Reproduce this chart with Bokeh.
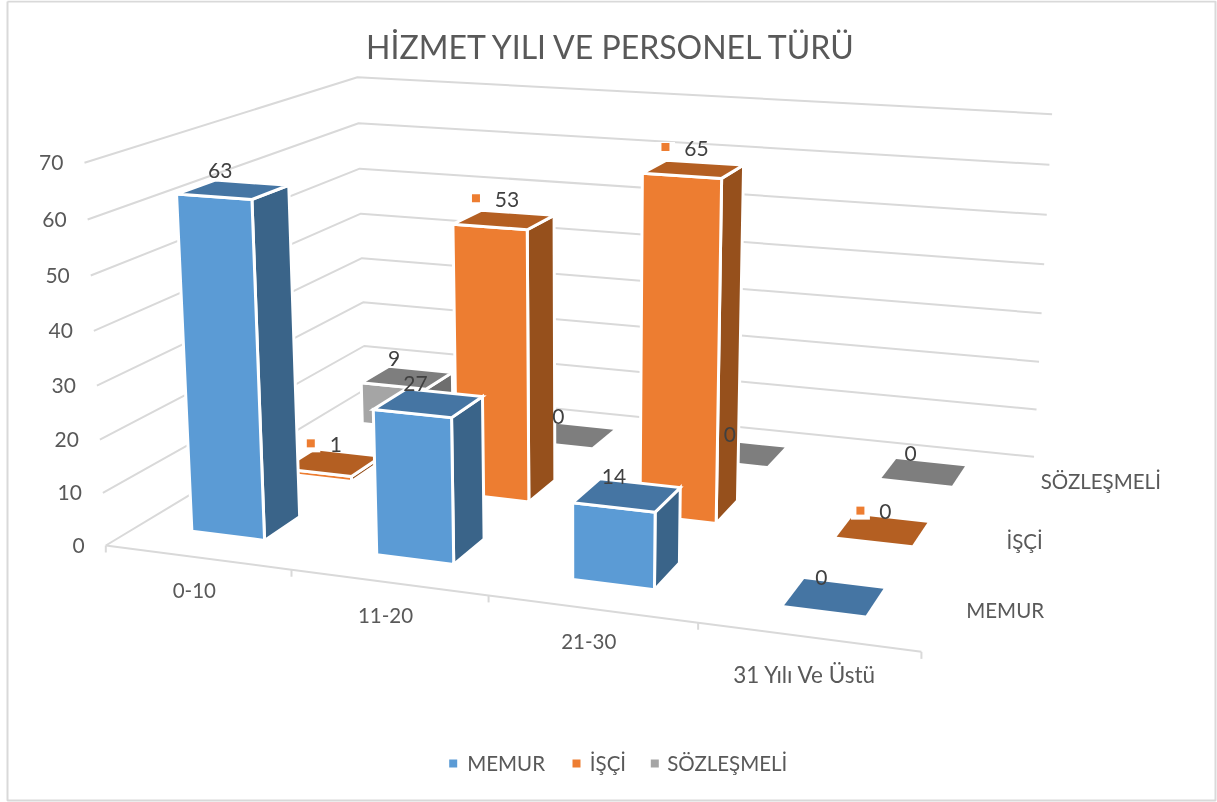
import numpy as np
from bokeh.plotting import figure
from bokeh.models import Range1d
from bokeh.core.properties import value
from bokeh.embed import file_html
from bokeh.resources import INLINE

title = "HİZMET YILI VE PERSONEL TÜRÜ"
categories = ["0-10", "11-20", "21-30", "31 Yılı Ve Üstü"]
series_names = ["MEMUR", "İŞÇİ", "SÖZLEŞMELİ"]
memur = [63, 27, 14, 0]
isci = [1, 53, 65, 0]
sozlesmeli = [9, 0, 0, 0]
value_ticks = [0, 10, 20, 30, 40, 50, 60, 70]

# camera calibration: where axis corners and ticks of the 3D box fall on the page
calib = [
 ((0,0,0),(106,544)),((1,0,0),(291.7,570)),((2,0,0),(487.7,596.7)),((3,0,0),(697.8,622.7)),((4,0,0),(920.7,650)),
 ((0,3,0),(364.5,388)),((4,3,0),(1034,457)),
 ((0,0,70),(84.3,162.3)),((0,0,60),(87.3,219)),((0,0,50),(90,275)),((0,0,40),(93.3,330)),((0,0,30),(96,385)),((0,0,20),(99.3,438.7)),((0,0,10),(101.7,492.3)),
 ((0,3,70),(356.7,76.7)),((0,3,60),(358,122.7)),((0,3,50),(359.3,168.3)),((0,3,40),(360.7,213.3)),((0,3,30),(361.7,258.3)),((0,3,20),(362.7,301.7)),((0,3,10),(363.3,345.7)),
 ((4,3,70),(1051.7,113.3)),((4,3,60),(1049,164.7)),((4,3,50),(1046.3,214.3)),((4,3,40),(1043.7,263.7)),((4,3,30),(1041,312.7)),((4,3,20),(1038,361.3)),((4,3,10),(1036,408.3)),
]
rows = []
for (X, Y, Z), (u, v) in calib:
    A = [X/4, Y/3, Z/70, 1]
    u, v = u/1000, v/1000
    rows.append(A + [0,0,0,0] + [-u*a for a in A])
    rows.append([0,0,0,0] + A + [-v*a for a in A])
_, _, vt = np.linalg.svd(np.array(rows))
P = vt[-1].reshape(3, 4)

def proj(X, Y, Z):
    r = P @ np.array([X/4, Y/3, Z/70, 1.0])
    return 1000*r[0]/r[2], 1000*r[1]/r[2]

GX0, GX1 = 0.29, 0.69
GY0, GY1 = 0.33, 0.715
INSET = 0.012
faces = {
 "MEMUR": ("#5B9BD5", "#4575A3", "#3A6489"),
 "İŞÇİ": ("#ED7D31", "#B45F22", "#96501C"),
 "SÖZLEŞMELİ": ("#A5A5A5", "#7E7E7E", "#6E6E6E"),
}
FONT = value("Lato")
p = figure(width=1217, height=802, x_range=Range1d(0, 1217), y_range=Range1d(802, 0),
           output_backend="svg", toolbar_location=None, min_border=0,
           outline_line_color=None, background_fill_color="white",
           styles={"position": "fixed", "left": "0px", "top": "0px"})
p.axis.visible = False
p.grid.visible = False

GRID = "#D9D9D9"
p.line([7, 1215, 1215, 7, 7], [1, 1, 800, 800, 1], line_color=GRID, line_width=2)
for t in value_ticks:
    pts = [proj(0,0,t), proj(0,3,t), proj(4,3,t)]
    p.line([q[0] for q in pts], [q[1] for q in pts], line_color=GRID, line_width=2)
front = [proj(i,0,0) for i in range(5)]
p.line([q[0] for q in front], [q[1] for q in front], line_color=GRID, line_width=2)
for q in front:
    p.line([q[0], q[0]], [q[1], q[1]+7], line_color=GRID, line_width=2)

tx = [proj(0,0,t)[0]-21 for t in value_ticks]
ty = [proj(0,0,t)[1] for t in value_ticks]
p.text(tx, ty, text=[str(t) for t in value_ticks], text_font=FONT, text_font_size="21px", text_color="#595959", text_align="right", text_baseline="middle")

cat_dy = [33, 33, 33, 37]
cat_size = ["20.5px", "20.5px", "20.5px", "22.5px"]
for i in range(4):
    q = proj(i+.5, 0, 0)
    p.text([q[0]-3], [q[1]+cat_dy[i]], text=[categories[i]], text_font=FONT, text_font_size=cat_size[i], text_color="#595959", text_align="center", text_baseline="middle")
sx = [proj(4,j+.5,0)[0]+22 for j in range(3)]
sy = [proj(4,j+.5,0)[1]-2 for j in range(3)]
p.text(sx, sy, text=series_names, text_font=FONT, text_font_size="20.5px", text_color="#595959", text_align="left", text_baseline="middle")

p.text([612], [46], text=[title], text_font=FONT, text_font_size="32px", text_color="#595959", text_align="center", text_baseline="middle")

def bar(i, j, val, cols):
    ins = INSET if val == 0 else 0
    x0, x1 = i+GX0+ins, i+GX1-ins
    y0, y1 = j+GY0+ins, j+GY1-ins
    kw = dict(line_color="white", line_width=3, line_join="miter") if val > 0 else dict(line_color=None)
    fr = [proj(x0,y0,0), proj(x1,y0,0), proj(x1,y0,val), proj(x0,y0,val)]
    ri = [proj(x1,y0,0), proj(x1,y1,0), proj(x1,y1,val), proj(x1,y0,val)]
    to = [proj(x0,y0,val), proj(x1,y0,val), proj(x1,y1,val), proj(x0,y1,val)]
    if val > 0:
        p.patch([q[0] for q in ri], [q[1] for q in ri], fill_color=cols[2], **kw)
        p.patch([q[0] for q in fr], [q[1] for q in fr], fill_color=cols[0], **kw)
    p.patch([q[0] for q in to], [q[1] for q in to], fill_color=cols[1], **kw)

all_vals = [memur, isci, sozlesmeli]
for j in [2, 1, 0]:
    for i in range(4):
        bar(i, j, all_vals[j][i], faces[series_names[j]])

for j, vals in enumerate(all_vals):
    for i, v in enumerate(vals):
        c = proj(i+(GX0+GX1)/2, j+(GY0+GY1)/2, v)
        if j == 1:
            tx_, ty_ = c[0]+3, c[1]-18-3*v/65
            mx, my = tx_-(31 if v >= 10 else 25), ty_-1
            p.rect([mx], [my+2], width=19, height=14, fill_color="white", line_color=None)
            p.scatter([mx], [my], marker="square", size=8, fill_color="#ED7D31", line_color=None)
            p.text([tx_], [ty_], text=[str(v)], text_font=FONT, text_font_size="21px", text_color="#404040", text_align="center", text_baseline="middle")
        else:
            p.text([c[0]-13], [c[1]-19], text=[str(v)], text_font=FONT, text_font_size="21px", text_color="#404040", text_align="center", text_baseline="middle")

lx = [452.7, 576, 654.3]
ltx = [466.7, 589.3, 666.7]
p.scatter(lx, [763]*3, marker="square", size=8, fill_color=[faces[s][0] for s in series_names], line_color=None)
p.text(ltx, [762]*3, text=series_names, text_font=FONT, text_font_size="20.5px", text_color="#595959", text_align="left", text_baseline="middle")

open("out.html", "w").write(file_html(p, INLINE))
